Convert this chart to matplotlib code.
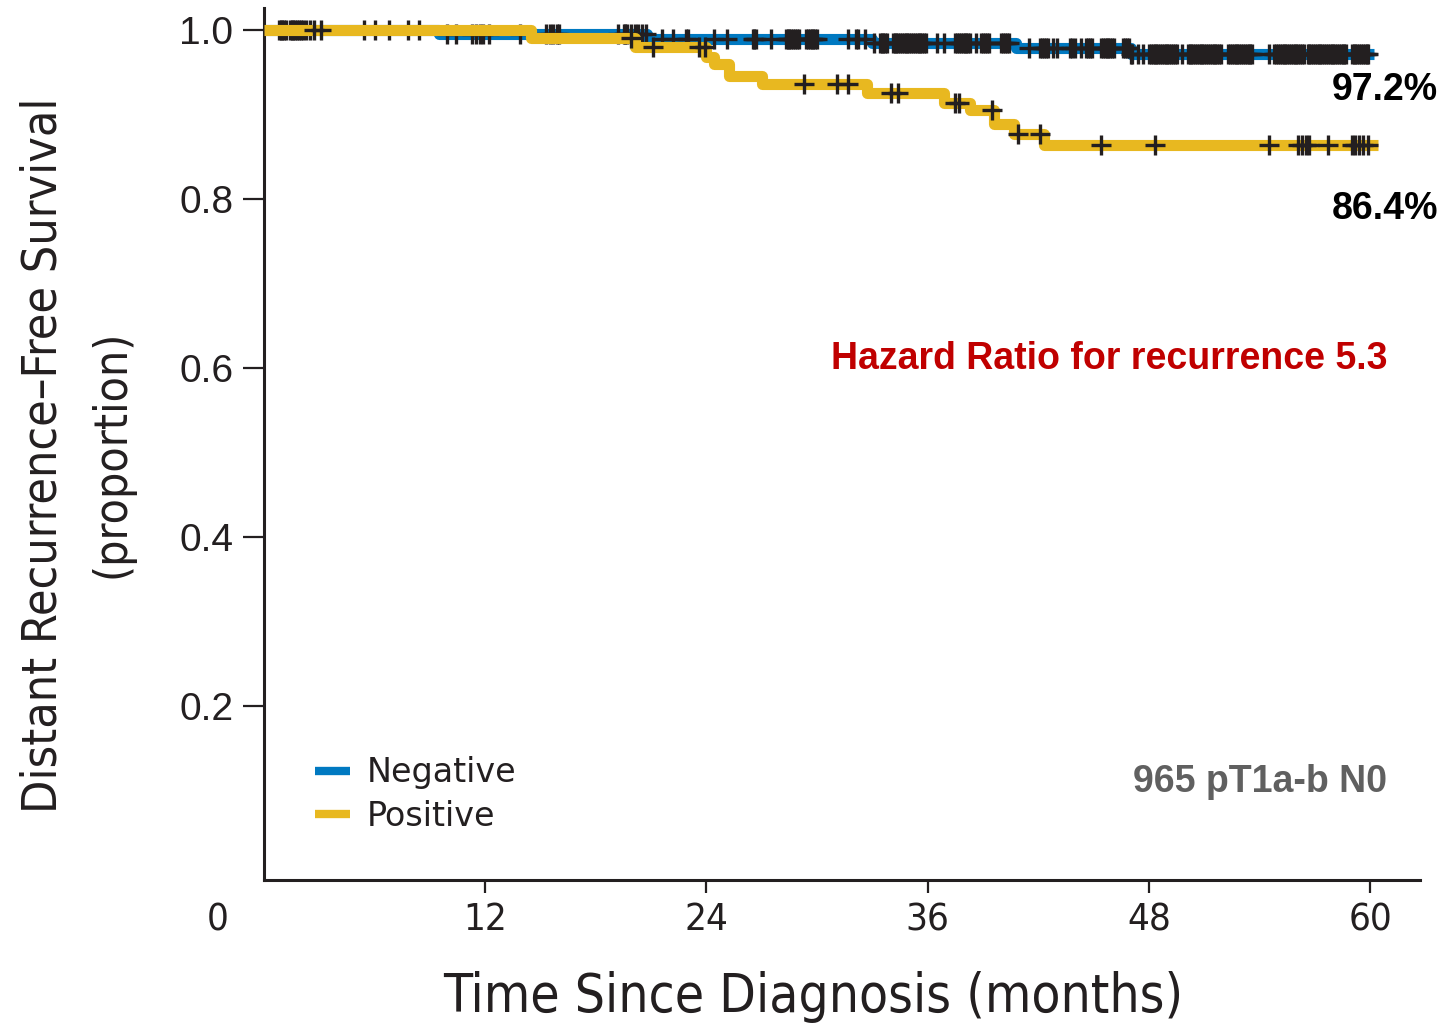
import numpy as np
import matplotlib
matplotlib.use("Agg")
import matplotlib.pyplot as plt
import matplotlib.font_manager as fm
from matplotlib.transforms import ScaledTranslation

# ---------------------------------------------------------------------------
# Data
# ---------------------------------------------------------------------------
neg_times = [0, 9.5, 20.8, 33.0, 40.8, 47.0, 60.2]
neg_surv  = [1.0, 0.995, 0.989, 0.985, 0.979, 0.972, 0.972]

pos_times = [0, 14.5, 20.1, 24.0, 24.4, 25.2, 27.0, 32.7, 36.9, 38.3, 39.6, 40.7, 42.3, 60.4]
pos_surv  = [1.0, 0.990, 0.980, 0.968, 0.960, 0.946, 0.936, 0.925, 0.914, 0.905,
             0.889, 0.877, 0.864, 0.864]

neg_censor = [0.8, 0.9, 1.0, 1.1, 1.2, 1.4, 1.5, 1.6, 1.7, 1.8, 1.9, 2.0, 2.1, 2.3, 2.5,
              5.4, 6.0, 6.8, 7.8, 8.4, 9.9, 10.4, 11.3, 11.5, 11.7, 11.9, 12.2, 13.9,
              15.3, 15.5, 15.7, 15.9, 16.0, 19.2, 19.5, 19.6, 19.7, 19.9, 20.1, 20.3,
              20.5, 20.7, 21.6, 22.2, 22.9, 23.0, 24.4, 25.1, 26.5, 26.6, 26.7, 27.5,
              28.3, 28.4, 28.5, 28.6, 28.7, 28.8, 28.9, 29.0, 29.4, 29.5, 29.6, 29.7,
              29.8, 29.9, 30.0, 31.7, 32.1, 32.2, 32.6, 33.1, 33.4, 33.5, 33.6, 33.7,
              33.8, 34.1, 34.2, 34.3, 34.4, 34.5, 34.6, 34.7, 34.8, 34.9, 35.0, 35.1,
              35.2, 35.3, 35.4, 35.5, 35.6, 35.7, 35.8, 35.9, 36.5, 36.9, 37.5, 37.6,
              37.7, 37.8, 37.9, 38.0, 38.1, 38.2, 38.3, 38.6, 38.9, 39.0, 39.1, 39.2,
              39.3, 40.0, 40.1, 40.2, 40.3, 40.4, 41.5, 42.1, 42.2, 42.3, 42.4, 42.5,
              42.8, 43.0, 43.7, 43.8, 44.0, 44.3, 44.6, 44.7, 44.8, 44.9, 45.4, 45.5,
              45.6, 45.7, 45.8, 45.9, 46.0, 46.1, 46.6, 46.7, 46.8, 46.9, 47.0, 47.1,
              47.4, 47.7, 48.0, 48.1, 48.2, 48.3, 48.4, 48.5, 48.6, 48.7, 48.8, 48.9,
              49.0, 49.1, 49.2, 49.3, 49.4, 49.5, 49.8, 50.1, 50.2, 50.3, 50.4, 50.5,
              50.6, 50.7, 50.8, 50.9, 51.0, 51.1, 51.2, 51.3, 51.4, 51.5, 51.6, 51.7,
              51.8, 51.9, 52.3, 52.4, 52.5, 52.6, 52.7, 52.8, 52.9, 53.0, 53.1, 53.2,
              53.3, 53.4, 53.5, 53.6, 54.5, 54.8, 54.9, 55.0, 55.1, 55.2, 55.3, 55.4,
              55.5, 55.6, 55.7, 55.8, 55.9, 56.0, 56.1, 56.2, 56.3, 56.4, 56.6, 56.7,
              56.8, 56.9, 57.0, 57.1, 57.2, 57.3, 57.4, 57.5, 57.6, 57.7, 57.8, 57.9,
              58.0, 58.1, 58.2, 58.3, 58.4, 58.5, 58.6, 58.7, 59.0, 59.1, 59.2, 59.3,
              59.4, 59.5, 59.6, 59.7, 59.8, 59.9]
pos_censor = [2.7, 3.1, 19.9, 21.1, 23.6, 23.9, 29.3, 31.1, 31.7, 34.0, 34.4, 37.5, 37.7,
              39.5, 40.9, 42.1, 45.4, 48.3, 54.5, 56.1, 56.3, 56.5, 56.7, 57.7, 59.0,
              59.2, 59.4, 59.6, 59.9]

groups      = ["Negative", "Positive"]
final_pct   = ["97.2%", "86.4%"]
hazard_text = "Hazard Ratio for recurrence 5.3"
cohort_text = "965 pT1a-b N0"
x_ticks     = [0, 12, 24, 36, 48, 60]
y_ticks     = [0.2, 0.4, 0.6, 0.8, 1.0]

# ---------------------------------------------------------------------------
# Style
# ---------------------------------------------------------------------------
BLUE  = "#0079c1"
GOLD  = "#e8b820"
INK   = "#231f20"
RED   = "#c00000"
GREY  = "#606060"
SANS  = ["Liberation Sans", "DejaVu Sans"]


def pick_narrow():
    """Find an installed condensed sans face; fall back to Liberation Sans."""
    best, best_rank = None, 99
    for f in fm.fontManager.ttflist:
        path = f.fname.lower().replace("-", "").replace("_", "")
        name = f.name.lower()
        if f.style != "normal" or f.weight not in (400, "normal", "regular"):
            continue
        if "mono" in name or "mono" in path or "serif" in path.replace("sans", ""):
            continue
        if not ("narrow" in path or "condensed" in path or "narrow" in name
                or "condensed" in name):
            continue
        if "extra" in path or "ultra" in path:
            rank = 6
        elif "semi" in path:
            rank = 4
        else:
            rank = 2
        if "liberation" in path or "dejavu" in path:
            rank -= 1
        if rank < best_rank:
            best, best_rank = f.fname, rank
    if best is None:
        return fm.FontProperties(family=SANS)
    return fm.FontProperties(fname=best)


NARROW = pick_narrow()


def surv_at(times, surv, t):
    idx = np.searchsorted(times, t, side="right") - 1
    return np.asarray(surv)[idx]


fig = plt.figure(figsize=(14.45, 10.23), dpi=100)
ax = fig.add_axes([264 / 1445, 143 / 1023, 1156 / 1445, 872 / 1023])
ax.set_xlim(0, 62.7)
ax.set_ylim(-0.006, 1.026)

# curves: blue line + marks, then gold line + marks on top
ax.step(neg_times, neg_surv, where="post", color=BLUE, lw=8,
        solid_capstyle="butt", zorder=2, label=groups[0], clip_on=False)
ax.plot(neg_censor, surv_at(neg_times, neg_surv, neg_censor), ls="none",
        marker="+", ms=14, mew=2.4, color=INK, zorder=3)
ax.step(pos_times, pos_surv, where="post", color=GOLD, lw=8,
        solid_capstyle="butt", zorder=4, label=groups[1], clip_on=False)
ax.plot(pos_censor, surv_at(pos_times, pos_surv, pos_censor), ls="none",
        marker="+", ms=14, mew=2.4, color=INK, zorder=5)

# axes
for side in ("top", "right"):
    ax.spines[side].set_visible(False)
for side in ("left", "bottom"):
    ax.spines[side].set_linewidth(2.2)
    ax.spines[side].set_color(INK)

ax.set_xticks(x_ticks)
ax.set_xticklabels([str(v) for v in x_ticks], fontproperties=NARROW, fontsize=29, color=INK)
ax.set_yticks(y_ticks)
ax.set_yticklabels([f"{v:.1f}" for v in y_ticks], family=SANS, fontsize=28, color=INK)
ax.tick_params(axis="x", length=9, width=1.6, color=INK, pad=7)
ax.tick_params(axis="y", length=15, width=1.6, color=INK, pad=7)
ax.xaxis.get_major_ticks()[0].tick1line.set_visible(False)
lab0 = ax.get_xticklabels()[0]
lab0.set_transform(lab0.get_transform() + ScaledTranslation(-0.46, 0, fig.dpi_scale_trans))

# axis titles (sizes fitted below to the original widths)
xlab = fig.text(813 / 1445, 11 / 1023, "Time Since Diagnosis (months)",
                fontproperties=NARROW, fontsize=40, color=INK, ha="center", va="baseline")
ylab1 = fig.text(43 / 1445, (1023 - 455) / 1023, "Distant Recurrence\u2013Free Survival",
                 fontproperties=NARROW, fontsize=40, color=INK, ha="center", va="center",
                 rotation=90)
ylab2 = fig.text(112 / 1445, (1023 - 454) / 1023, "(proportion)",
                 fontproperties=NARROW, fontsize=40, color=INK, ha="center", va="center",
                 rotation=90)

# annotations
ax.text(1.0156, 0.8945, final_pct[0], transform=ax.transAxes, ha="right", va="baseline",
        family=SANS, fontsize=27, fontweight="bold", color="black", clip_on=False)
ax.text(1.0156, 0.758, final_pct[1], transform=ax.transAxes, ha="right", va="baseline",
        family=SANS, fontsize=27, fontweight="bold", color="black", clip_on=False)
ax.text(0.9715, 0.586, hazard_text, transform=ax.transAxes, ha="right", va="baseline",
        family=SANS, fontsize=27, fontweight="bold", color=RED)
ax.text(0.9715, 0.101, cohort_text, transform=ax.transAxes, ha="right", va="baseline",
        family=SANS, fontsize=27, fontweight="bold", color=GREY)

leg = ax.legend(loc="upper left", bbox_to_anchor=(0.044, 0.142), frameon=False,
                handlelength=1.05, handletextpad=0.5, labelspacing=0.32,
                borderpad=0, borderaxespad=0,
                prop={"family": "DejaVu Sans", "size": 24})
for h in leg.get_lines():
    h.set_linewidth(6)
for t in leg.get_texts():
    t.set_color(INK)

# fit condensed labels to the extents measured on the original
fig.canvas.draw()
r = fig.canvas.get_renderer()
for txt, target, along in ((xlab, 740, "w"), (ylab1, 715, "h"), (ylab2, 248, "h")):
    bb = txt.get_window_extent(r)
    size = bb.width if along == "w" else bb.height
    txt.set_fontsize(txt.get_fontsize() * target / size)
tl = ax.get_xticklabels()[1]
bb = tl.get_window_extent(r)
for t in ax.get_xticklabels():
    t.set_fontsize(t.get_fontsize() * 44 / bb.width)

fig.savefig("out.png", dpi=100)
